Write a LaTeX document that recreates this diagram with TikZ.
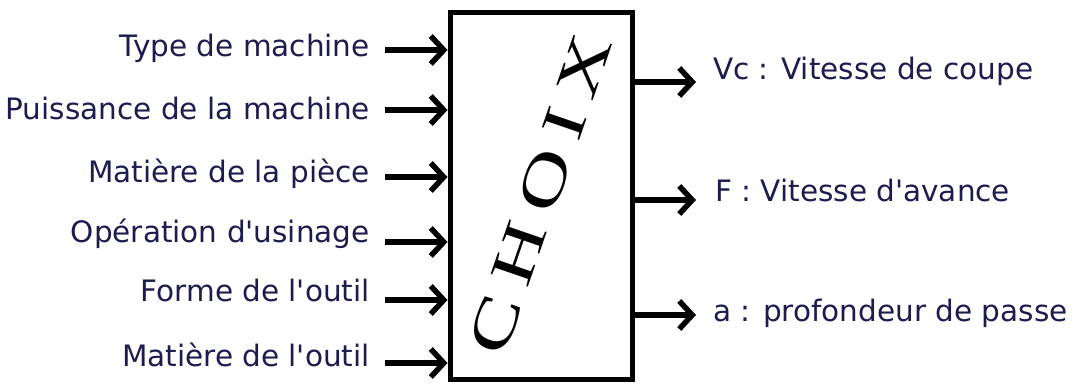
\documentclass[tikz,border=0pt]{standalone}
\usepackage{fontspec}
\setmainfont{DejaVu Sans}[Ligatures=TeXOff]
\newfontfamily\choixfont{Liberation Serif}
\usetikzlibrary{arrows.meta}
\definecolor{navy}{RGB}{28,28,78}
\tikzset{
  arr/.style={line width=5.5pt, -{Straight Barb[length=13pt,width=28pt]}},
  inlab/.style={anchor=base east, inner sep=0pt, text=navy, font=\fontsize{29.5}{32}\selectfont},
  outlab/.style={anchor=base west, inner sep=0pt, text=navy, font=\fontsize{29.5}{32}\selectfont},
  boxst/.style={draw, line width=5pt, fill=white}
}
\begin{document}
\begin{tikzpicture}[x=1pt,y=1pt]
\useasboundingbox[fill=white] (0,0) rectangle (1078,385);
% box
\draw[boxst] (450,5) rectangle (632,372.5);
\coordinate (boxL) at (447.5,0);
\coordinate (boxR) at (632,0);
% CHOIX: stretched along its baseline, then turned
\begin{scope}[shift={(540,191)}, cm={0.472,1.371,-0.946,0.326,(0,0)}]
\node[transform shape, inner sep=0pt, font=\choixfont\fontsize{60}{60}\selectfont] (choix) at (0,0) {C\kern10pt H\kern10pt O\kern10pt I\kern10pt X};
\end{scope}
% inputs
\node[inlab] (i1) at (370,328) {Type de machine};
\node[inlab] (i2) at (370,265) {Puissance de la machine};
\node[inlab] (i3) at (370,202) {Matière de la pièce};
\node[inlab] (i4) at (370,142) {Opération d'usinage};
\node[inlab] (i5) at (370,83) {Forme de l'outil};
\node[inlab] (i6) at (370,18) {Matière de l'outil};
\coordinate (a1) at (385,335); \coordinate (b1) at (boxL |- a1);
\coordinate (a2) at (385,275); \coordinate (b2) at (boxL |- a2);
\coordinate (a3) at (385,208); \coordinate (b3) at (boxL |- a3);
\coordinate (a4) at (385,143); \coordinate (b4) at (boxL |- a4);
\coordinate (a5) at (385,85);  \coordinate (b5) at (boxL |- a5);
\coordinate (a6) at (385,22);  \coordinate (b6) at (boxL |- a6);
\foreach \k in {1,...,6} { \draw[arr] (a\k) -- (b\k); }
% outputs
\node[outlab] (o1) at (713,305) {Vc : Vitesse de coupe};
\node[outlab] (o2) at (715,183) {F : Vitesse d'avance};
\node[outlab] (o3) at (713,63) {a : profondeur de passe};
\coordinate (c1) at (boxR |- 0,303); \coordinate (d1) at (696,303);
\coordinate (c2) at (boxR |- 0,185); \coordinate (d2) at (696,185);
\coordinate (c3) at (boxR |- 0,70);  \coordinate (d3) at (696,70);
\foreach \k in {1,2,3} { \draw[arr] (c\k) -- (d\k); }
\end{tikzpicture}
\end{document}
